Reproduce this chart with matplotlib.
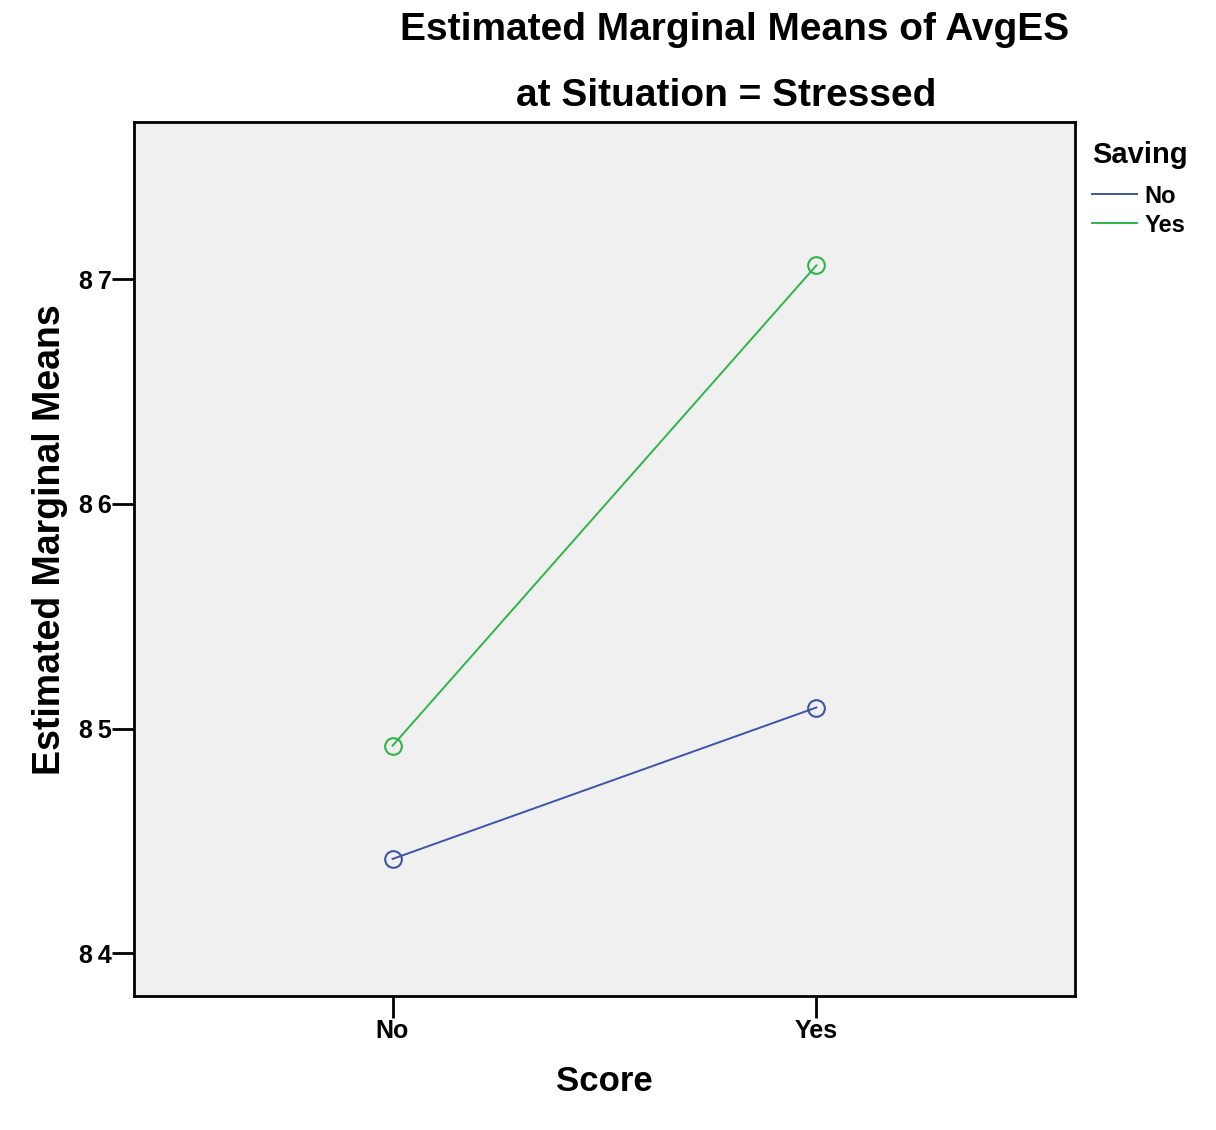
import matplotlib.pyplot as plt
from matplotlib.lines import Line2D

# data
score = ["No", "Yes"]
saving_no = [84.42, 85.094]
saving_yes = [84.924, 87.062]
yticks = [84, 85, 86, 87]

blue = "#3f54a6"
green = "#2fb54a"

plt.rcParams['font.family'] = ['Liberation Sans', 'DejaVu Sans']
plt.rcParams['font.weight'] = 'bold'

fig = plt.figure(figsize=(12.16, 11.30), dpi=100)
ax = fig.add_axes([0.1102, 0.1186, 0.7738, 0.7734])
ax.set_facecolor("#f0f0f0")

x = list(range(len(score)))
ax.plot(x, saving_no, color=blue, lw=1.4, marker='o', ms=12,
        mfc='none', mec=blue, mew=1.5)
ax.plot(x, saving_yes, color=green, lw=1.4, marker='o', ms=12,
        mfc='none', mec=green, mew=1.5)

ax.set_xlim(-0.61, 1.61)
ax.set_ylim(83.81, 87.70)
ax.set_xticks(x)
ax.set_xticklabels(score, fontsize=18, fontweight='bold')
ax.set_yticks(yticks)
ax.set_yticklabels(["\u2009".join(str(t)) for t in yticks], fontsize=18, fontweight='bold')
ax.tick_params(axis='both', length=16, width=2)
ax.tick_params(axis='y', pad=0)
ax.tick_params(axis='x', pad=0.5)
for s in ax.spines.values():
    s.set_linewidth(2)

ax.set_xlabel("Score", fontsize=25, fontweight='bold', labelpad=16)
ax.set_ylabel("Estimated Marginal Means", fontsize=27, fontweight='bold')
ax.yaxis.set_label_coords(-0.070, 0.5217)

fig.text(0.6044, 0.9646, "Estimated Marginal Means of AvgES", fontsize=28,
         fontweight='bold', ha='center', va='baseline')
fig.text(0.597, 0.906, "at Situation = Stressed", fontsize=28,
         fontweight='bold', ha='center', va='baseline')

# legend: title as separate text, entries below it
fig.text(0.898, 0.8558, "Saving", fontsize=21, fontweight='bold',
         ha='left', va='baseline')
handles = [Line2D([], [], color=blue, lw=1.4), Line2D([], [], color=green, lw=1.4)]
fig.legend(handles, score, loc='upper left',
           bbox_to_anchor=(0.898, 0.8365), frameon=False,
           prop={'size': 17, 'weight': 'bold'}, handlelength=1.9,
           handletextpad=0.34, labelspacing=0.25, borderpad=0,
           borderaxespad=0)

fig.savefig("out.png", dpi=100)
